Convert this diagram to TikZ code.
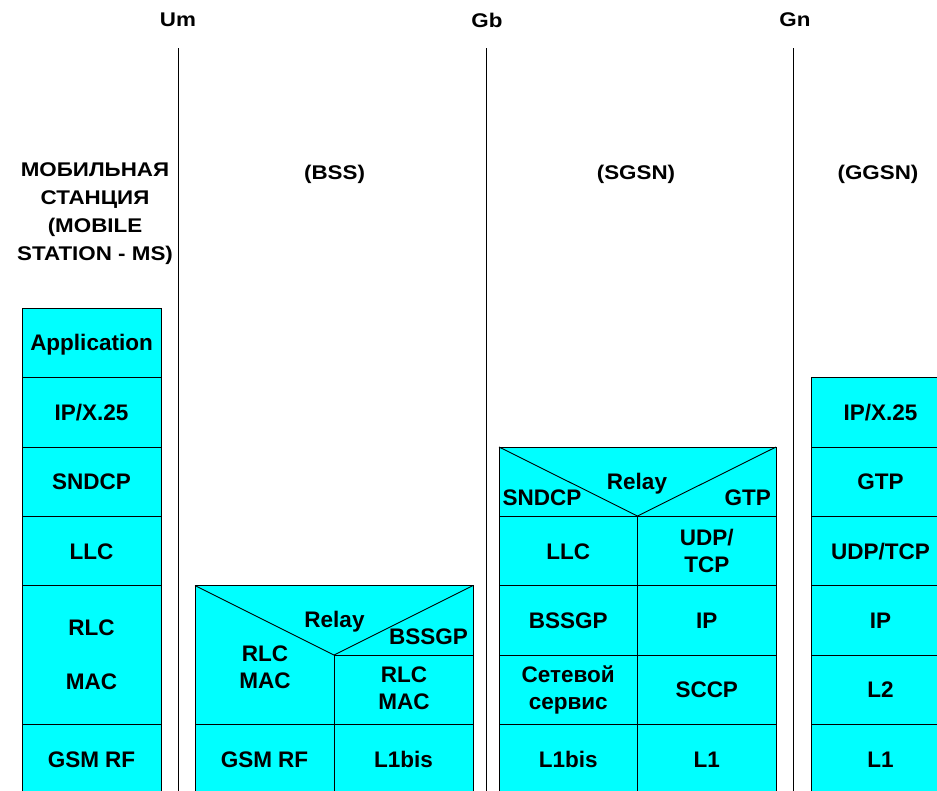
\documentclass[tikz,border=0pt]{standalone}
\usepackage{fontspec}
\setmainfont{Liberation Sans}
\usepackage{graphicx}
\definecolor{cellcyan}{HTML}{00FFFF}
\newcommand{\hdrtext}[1]{\scalebox{1.13}[1]{#1}}
\begin{document}
\begin{tikzpicture}[x=1pt,y=-1pt,
  cell/.style={draw=black,line width=0.9pt,fill=cellcyan,inner sep=0pt,
    minimum width=139pt,minimum height=69.5pt,align=center,
    font=\fontsize{22.5}{27}\selectfont\bfseries,
    text height=16.2pt,text depth=0pt},
  multi/.style={text height={},text depth={}},
  blk/.style={draw=black,line width=0.9pt,fill=cellcyan},
  seg/.style={draw=black,line width=0.9pt},
  lbl/.style={inner sep=0pt,align=center,font=\fontsize{22.5}{27}\selectfont\bfseries},
  hdr/.style={inner sep=0pt,align=center,font=\fontsize{19.8}{27.7}\selectfont\bfseries},
  sep/.style={draw=black,line width=1pt}]
\clip (0,0) rectangle (937,790);
\fill[white] (0,0) rectangle (937,790);

% interface lines and labels
\node[hdr] (um) at (178,20) {\hdrtext{Um}};
\node[hdr] (gb) at (487,20) {\hdrtext{Gb}};
\node[hdr] (gn) at (795,20) {\hdrtext{Gn}};
\coordinate (umtop) at (178.5,48); \coordinate (umbot) at (178.5,795);
\coordinate (gbtop) at (486.5,48); \coordinate (gbbot) at (486.5,795);
\coordinate (gntop) at (793.5,48); \coordinate (gnbot) at (793.5,795);
\draw[sep] (umtop) -- (umbot);
\draw[sep] (gbtop) -- (gbbot);
\draw[sep] (gntop) -- (gnbot);

% headers
\node[hdr] (hms) at (95,213) {\hdrtext{\begin{tabular}{@{}c@{}}МОБИЛЬНАЯ\\СТАНЦИЯ\\(MOBILE\\STATION - MS)\end{tabular}}};
\node[hdr] (hbss) at (334.5,174) {\hdrtext{(BSS)}};
\node[hdr] (hsgsn) at (636,174) {\hdrtext{(SGSN)}};
\node[hdr] (hggsn) at (878,174) {\hdrtext{(GGSN)}};

% MS stack
\node[cell] (ms1) at (91.5,342.75) {Application};
\node[cell] (ms2) at (91.5,412.25) {IP/X.25};
\node[cell] (ms3) at (91.5,481.75) {SNDCP};
\node[cell] (ms4) at (91.5,551.25) {LLC};
\node[cell,multi,minimum height=139pt] (ms5) at (91.5,655) {RLC\\[27pt]MAC};
\node[cell] (ms6) at (91.5,759.25) {GSM RF};

% BSS stack
\path[blk] (195,585.5) rectangle (473,724.5);
\draw[seg] (195,585.5) -- (334,655) -- (473,585.5);
\draw[seg] (334,655) -- (473,655);
\draw[seg] (334,655) -- (334,724.5);
\node[lbl,anchor=base] (brelay) at (334.5,627.3) {Relay};
\node[lbl,anchor=base east] (bbssgp) at (468,644) {BSSGP};
\node[lbl] (brlcl) at (265,667) {RLC\\MAC};
\node[lbl] (brlcr) at (404,688.5) {RLC\\MAC};
\node[cell] (b1) at (264.5,759.25) {GSM RF};
\node[cell] (b2) at (403.5,759.25) {L1bis};

% SGSN stack
\path[blk] (499,447) rectangle (776,516);
\draw[seg] (499,447) -- (637.5,516) -- (776,447);
\node[lbl,anchor=base] (srelay) at (637,489.5) {Relay};
\node[lbl,anchor=base west] (ssndcp) at (502.5,505) {SNDCP};
\node[lbl,anchor=base east] (sgtp) at (771,505) {GTP};
\node[cell,minimum width=138.5pt] (s1) at (568.25,551.25) {LLC};
\node[cell,multi,minimum width=138.5pt] (s2) at (706.75,551.25) {UDP/\\TCP};
\node[cell,minimum width=138.5pt] (s3) at (568.25,620.25) {BSSGP};
\node[cell,minimum width=138.5pt] (s4) at (706.75,620.25) {IP};
\node[cell,multi,minimum width=138.5pt] (s5) at (568.25,689.75) {Сетевой\\сервис};
\node[cell,minimum width=138.5pt] (s6) at (706.75,689.75) {SCCP};
\node[cell,minimum width=138.5pt] (s7) at (568.25,759.25) {L1bis};
\node[cell,minimum width=138.5pt] (s8) at (706.75,759.25) {L1};

% GGSN stack
\node[cell] (g1) at (880.5,412.25) {IP/X.25};
\node[cell] (g2) at (880.5,481.75) {GTP};
\node[cell] (g3) at (880.5,551.25) {UDP/TCP};
\node[cell] (g4) at (880.5,620.25) {IP};
\node[cell] (g5) at (880.5,689.75) {L2};
\node[cell] (g6) at (880.5,759.25) {L1};
\end{tikzpicture}
\end{document}
